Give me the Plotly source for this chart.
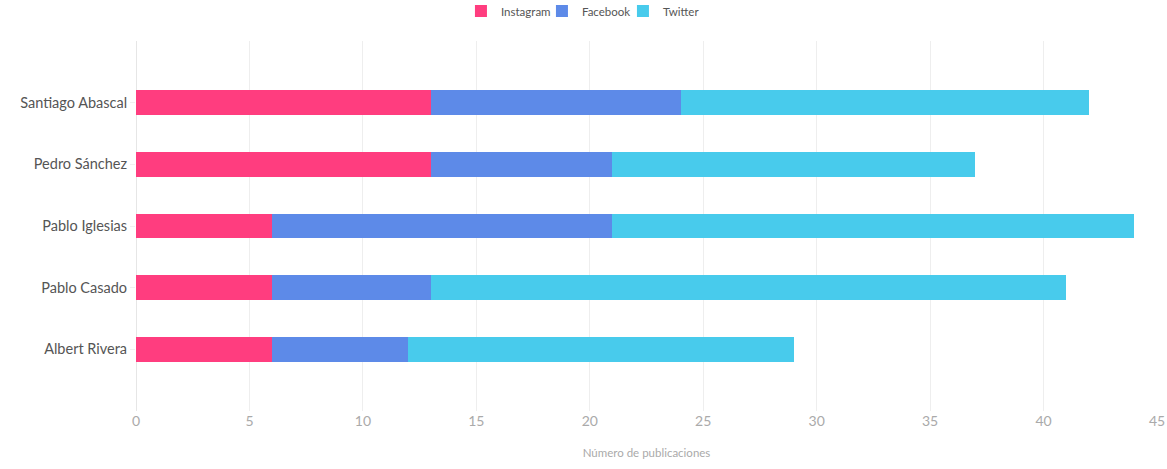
import plotly.graph_objects as go

# candidates, bottom to top
candidatos = ['Albert Rivera', 'Pablo Casado', 'Pablo Iglesias', 'Pedro Sánchez', 'Santiago Abascal']
instagram = [6, 6, 6, 13, 13]
facebook = [6, 7, 15, 8, 11]
twitter = [17, 28, 23, 16, 18]
x_ticks = [0, 5, 10, 15, 20, 25, 30, 35, 40, 45]

font_name = 'Lato'

fig = go.Figure()
fig.add_trace(go.Bar(y=candidatos, x=instagram, name='Instagram', orientation='h', marker=dict(color='#FF3D7F', line=dict(width=0))))
fig.add_trace(go.Bar(y=candidatos, x=facebook, name='Facebook', orientation='h', marker=dict(color='#5D8AE8', line=dict(width=0))))
fig.add_trace(go.Bar(y=candidatos, x=twitter, name='Twitter', orientation='h', marker=dict(color='#48CBEC', line=dict(width=0))))

fig.update_layout(
    barmode='stack',
    bargap=0.6,
    width=1167,
    height=469,
    margin=dict(l=136, r=10, t=41, b=58),
    paper_bgcolor='white',
    plot_bgcolor='white',
    font=dict(family=font_name, color='#555555', size=12),
    legend=dict(orientation='h', x=0.4991, xanchor='center', xref='container', y=0.9765, yanchor='middle', yref='container',
                font=dict(size=11.5, color='#555555'), itemwidth=30, entrywidth=36, entrywidthmode='pixels',
                traceorder='normal', itemclick=False),
)
fig.update_xaxes(
    range=[0, 45],
    tickmode='array',
    tickvals=x_ticks,
    automargin='height',
    showgrid=True,
    gridcolor='#EEEEEE',
    gridwidth=1,
    zeroline=True,
    zerolinecolor='#E6E6E6',
    zerolinewidth=1,
    showline=False,
    ticks='',
    tickfont=dict(size=14, color='#AAAAAA'),
    title=dict(text='Número de publicaciones', font=dict(size=11.5, color='#AAAAAA'), standoff=20),
)
fig.update_yaxes(
    type='category',
    categoryorder='array',
    categoryarray=candidatos,
    range=[-1, 5],
    showgrid=False,
    ticks='outside',
    ticklen=5,
    tickcolor='#F0F0F0',
    tickfont=dict(size=14.5, color='#555555'),
)

# drop the page's default body margin so the legend is not cut at the top
fig.write_html("out.html", config=dict(displayModeBar=False), post_script="document.body.style.margin = '0';")
